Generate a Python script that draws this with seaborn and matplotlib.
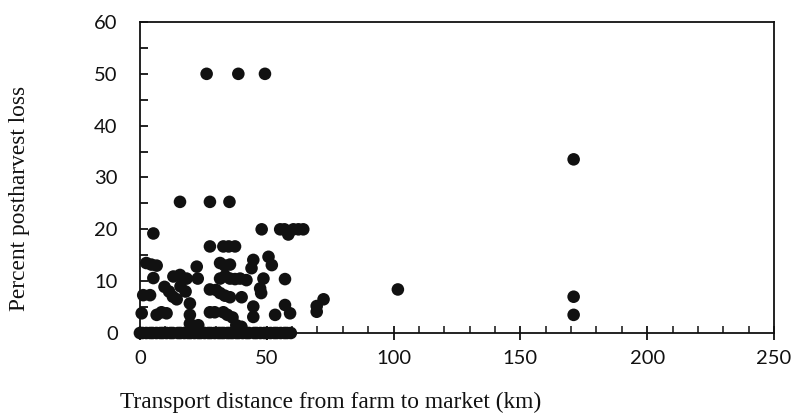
import matplotlib
matplotlib.use("Agg")
import matplotlib.pyplot as plt
import seaborn as sns
import pandas as pd
from matplotlib.ticker import MultipleLocator

# Transport distance (km) and percent postharvest loss
zero_row_km = [0, 1, 2.5, 4, 5, 6.5, 8, 9, 10.5, 12, 13, 15, 16, 17.5, 19, 20,
               21.5, 23, 24, 25.5, 27, 28, 29.5, 31, 32, 33, 34.5, 35.5, 36.5,
               38, 39, 40.5, 42, 43, 45, 46, 47.5, 49, 50, 51.5, 53, 54, 55.5,
               57, 58, 59.5]
zero_row_loss = [0] * len(zero_row_km)

other_km = [26.3, 38.8, 49.3,
            171, 171, 171,
            101.7,
            69.7, 69.7, 72.4,
            15.8, 27.6, 35.3,
            5.3,
            48, 55.3, 57, 58.5, 60.5, 62.5, 64.4,
            27.6, 32.9, 35, 37.5,
            2.5, 4.5, 6.6, 22.4, 31.6, 33.5, 35.5, 44.7, 44, 50.7, 52,
            5.3, 13.2, 15.8, 18.4, 22.8, 31.6, 33.6, 35.5, 37.5, 39.5, 42, 48.7, 57.2,
            9.7, 11.5, 16, 18, 27.6, 30, 47.4, 13, 14.5, 31.6, 33.5, 35.5, 40.1, 47.8,
            1.3, 4,
            0.7, 6.6, 8.5, 10.5, 19.7, 19.7, 19.7, 27.6, 29.5, 32.9, 34.5, 36.5,
            44.7, 44.7, 53.3, 57.2, 59.2, 23, 38, 40]
other_loss = [50, 50, 50,
              33.5, 7, 3.5,
              8.4,
              4.1, 5.2, 6.5,
              25.3, 25.3, 25.3,
              19.2,
              20, 20, 20, 19, 20, 20, 20,
              16.7, 16.7, 16.7, 16.7,
              13.5, 13.2, 13, 12.8, 13.5, 13, 13.2, 14.1, 12.5, 14.7, 13.1,
              10.6, 10.9, 11.2, 10.5, 10.5, 10.5, 11, 10.5, 10.4, 10.5, 10.2, 10.5, 10.4,
              8.9, 8, 9, 8, 8.4, 8.3, 8.6, 7, 6.5, 7.7, 7.2, 6.9, 6.9, 7.7,
              7.3, 7.3,
              3.8, 3.5, 4, 3.8, 5.7, 3.5, 1.8, 4, 4, 4, 3.5, 3,
              5.1, 3.1, 3.5, 5.4, 3.8, 1.5, 1.5, 1.2]

x_ticks = [0, 50, 100, 150, 200, 250]
y_ticks = [0, 10, 20, 30, 40, 50, 60]

df = pd.DataFrame({"km": zero_row_km + other_km,
                   "loss": zero_row_loss + other_loss})

fig = plt.figure(figsize=(7.95, 4.15), dpi=100)
ax = fig.add_axes([0.176, 0.1976, 0.7976, 0.7494])
sns.scatterplot(data=df, x="km", y="loss", ax=ax, s=82, color="#111111",
                edgecolor="none", linewidth=0, legend=False, zorder=3,
                clip_on=False)

ax.set_xlim(0, 250)
ax.set_ylim(0, 60)
ax.set_xticks(x_ticks)
ax.set_yticks(y_ticks)
ax.xaxis.set_minor_locator(MultipleLocator(10))
ax.yaxis.set_minor_locator(MultipleLocator(5))
tick_font = dict(family=["Lato", "DejaVu Sans"], size=14.5)
ax.set_xticklabels([str(t) for t in x_ticks], **tick_font)
ax.set_yticklabels([str(t) for t in y_ticks], **tick_font)
ax.tick_params(axis="x", which="major", direction="inout", length=10, width=1.3,
               pad=7, color="#111111", labelcolor="#111111")
ax.tick_params(axis="x", which="minor", direction="in", length=5, width=1.1,
               color="#111111")
ax.tick_params(axis="y", which="both", direction="in", length=6, width=1.3,
               pad=16, color="#111111", labelcolor="#111111")
for sp in ax.spines.values():
    sp.set_linewidth(1.3)
    sp.set_color("#111111")
ax.set_xlabel("")
ax.set_ylabel("")

label_font = dict(family=["Liberation Serif", "DejaVu Serif"], size=16.8, color="#111111")
fig.text(120 / 795, 1 - 402 / 415, "Transport distance from farm to market (km)",
         ha="left", va="center", **label_font)
fig.text(20 / 795, 1 - 198 / 415, "Percent postharvest loss", rotation=90,
         ha="center", va="center", **label_font)

fig.savefig("out.png", dpi=100, facecolor="white")
